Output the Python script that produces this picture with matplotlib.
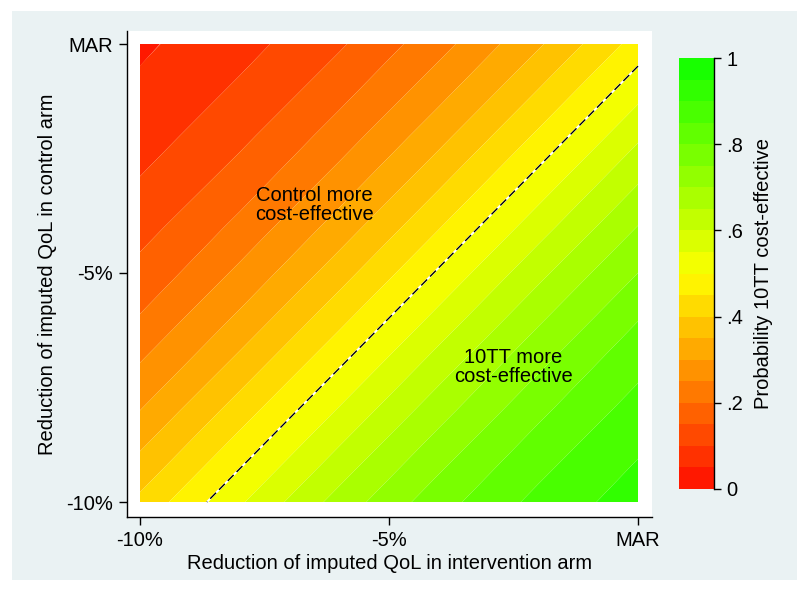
import numpy as np
import matplotlib
matplotlib.use("Agg")
import matplotlib.pyplot as plt
from matplotlib.colors import hsv_to_rgb
from matplotlib.patches import Rectangle

plt.rcParams['font.family'] = ['Liberation Sans', 'DejaVu Sans']

# grid of reductions (%), intervention arm (x) and control arm (y)
red_intervention = [-10, -8, -6, -4, -2, 0]
red_control = [-10, -8, -6, -4, -2, 0]

# probability 10TT cost-effective, rows follow red_control, columns red_intervention
prob_row_c10 = [0.412, 0.543, 0.670, 0.780, 0.865, 0.925]
prob_row_c8 = [0.300, 0.424, 0.555, 0.681, 0.789, 0.872]
prob_row_c6 = [0.204, 0.310, 0.435, 0.567, 0.692, 0.798]
prob_row_c4 = [0.130, 0.213, 0.321, 0.447, 0.579, 0.702]
prob_row_c2 = [0.076, 0.136, 0.222, 0.332, 0.459, 0.591]
prob_row_c0 = [0.042, 0.081, 0.143, 0.231, 0.343, 0.471]

tick_vals = [-10, -5, 0]
tick_labels = ["-10%", "-5%", "MAR"]
cbar_ticks = [0, 0.2, 0.4, 0.6, 0.8, 1]
cbar_ticklabels = ["0", ".2", ".4", ".6", ".8", "1"]

P = np.array([prob_row_c10, prob_row_c8, prob_row_c6, prob_row_c4, prob_row_c2, prob_row_c0])
X, Y = np.meshgrid(red_intervention, red_control)

levels = np.linspace(0, 1, 21)
# hue rule red -> yellow -> green like Stata
band_cols = [hsv_to_rgb((((i + 1) / 21) * 120 / 360, 1, 1)) for i in range(20)]

FS = 14.5

fig = plt.figure(figsize=(8.03, 5.90), dpi=100)
fig.patch.set_facecolor("white")
fig.patches.append(Rectangle((12 / 803, 10 / 590), 785 / 803, 569 / 590,
                             transform=fig.transFigure, facecolor="#EAF2F3",
                             edgecolor="none", zorder=-10))

ax = fig.add_axes([127 / 803, (590 - 517) / 590, 525 / 803, 486 / 590])
ax.set_facecolor("white")

cf = ax.contourf(X, Y, P, levels=levels, colors=band_cols, antialiased=True)
ax.contour(X, Y, P, levels=[0.5], colors="white", linewidths=1.4)
cl = ax.contour(X, Y, P, levels=[0.5], colors="black", linewidths=1.0)
cl.set_linestyle((0, (6, 3)))

ax.set_xlim(-10 - 13 / 49.8, 14 / 49.8)
ax.set_ylim(-10 - 15 / 45.8, 13 / 45.8)

for s in ["top", "right"]:
    ax.spines[s].set_visible(False)
ax.spines["left"].set_linewidth(1.0)
ax.spines["bottom"].set_linewidth(1.0)

ax.set_xticks(tick_vals)
ax.set_xticklabels(tick_labels, fontsize=FS)
ax.set_yticks(tick_vals)
ax.set_yticklabels(tick_labels, fontsize=FS)
ax.tick_params(axis="both", direction="out", length=6, width=1, pad=4)

ax.set_xlabel("Reduction of imputed QoL in intervention arm", fontsize=FS, labelpad=3)
ax.set_ylabel("Reduction of imputed QoL in control arm", fontsize=FS, labelpad=7)

ax.text(-6.5, -3.52, "Control more\ncost-effective", fontsize=FS, ha="center",
        va="center", linespacing=1.0)
ax.text(-2.5, -7.05, "10TT more\ncost-effective", fontsize=FS, ha="center",
        va="center", linespacing=1.0)

cax = fig.add_axes([679 / 803, (590 - 489) / 590, 35 / 803, 431 / 590])
cb = fig.colorbar(cf, cax=cax, ticks=cbar_ticks)
cb.outline.set_visible(False)
cb.set_ticklabels(cbar_ticklabels)
cax.tick_params(labelsize=FS, length=5, width=1, direction="out", pad=4)
cax.plot([1, 1], [0, 1], transform=cax.transAxes, color="black", lw=1.0, clip_on=False)
cb.set_label("Probability 10TT cost-effective", fontsize=FS, labelpad=8)

fig.savefig("out.png", dpi=100, facecolor=fig.get_facecolor())
